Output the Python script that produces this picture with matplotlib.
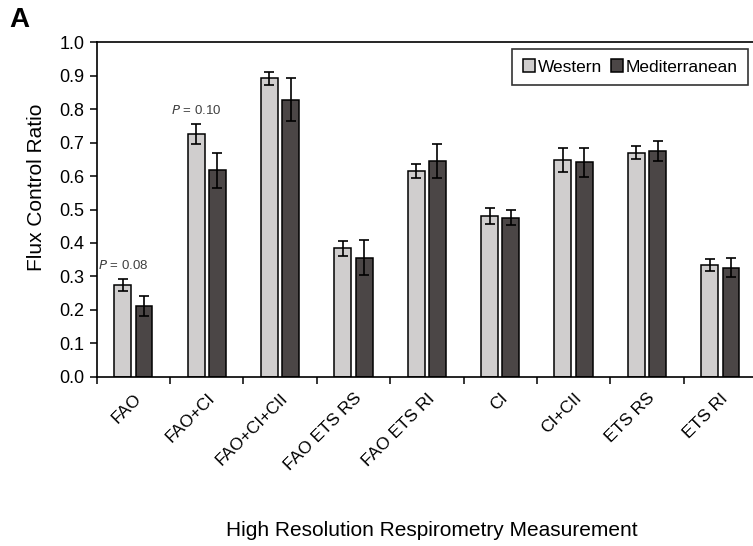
import numpy as np
import matplotlib
matplotlib.use('Agg')
import matplotlib.pyplot as plt

plt.rcParams['font.family'] = ['Liberation Sans', 'DejaVu Sans']

# Data
categories = ['FAO', 'FAO+CI', 'FAO+CI+CII', 'FAO ETS RS', 'FAO ETS RI',
              'CI', 'CI+CII', 'ETS RS', 'ETS RI']
western = [0.274, 0.725, 0.892, 0.384, 0.616, 0.482, 0.649, 0.670, 0.334]
western_err = [0.018, 0.030, 0.020, 0.023, 0.021, 0.024, 0.036, 0.020, 0.018]
medit = [0.211, 0.617, 0.829, 0.356, 0.644, 0.476, 0.641, 0.675, 0.326]
medit_err = [0.029, 0.053, 0.063, 0.052, 0.051, 0.022, 0.043, 0.030, 0.029]
p_labels = {0: '0.08', 1: '0.10'}

fig = plt.figure(figsize=(7.53, 5.46), dpi=100)
ax = fig.add_axes([0.1284, 0.310, 0.8769, 0.6125])

x = np.arange(len(categories)) + 0.5
w = 0.23
off = 0.145
ekw = dict(elinewidth=1.2, capthick=1.2, ecolor='black')
ax.bar(x - off, western, w, yerr=western_err, capsize=3.5, color='#d0cece',
       edgecolor='black', linewidth=1.1, error_kw=ekw, label='Western', zorder=2)
ax.bar(x + off, medit, w, yerr=medit_err, capsize=3.5, color='#4b4646',
       edgecolor='black', linewidth=1.1, error_kw=ekw, label='Mediterranean', zorder=2)

# P-value annotations
for i, p in p_labels.items():
    top = western[i] + western_err[i]
    ax.text(x[i] - off, top + 0.022, r'$P$ = ' + p, ha='center', va='bottom',
            fontsize=9.5, color='#404040')

ax.set_xlim(0, len(categories))
ax.set_ylim(0, 1.0)
ax.set_yticks(np.arange(0, 1.01, 0.1))
ax.set_yticklabels(['%.1f' % v for v in np.arange(0, 1.01, 0.1)], fontsize=13)
ax.tick_params(axis='y', length=5, width=1.1, direction='out', pad=4)

ax.set_xticks(x)
ax.set_xticklabels(categories, rotation=45, ha='right', rotation_mode='anchor', fontsize=12.5)
ax.tick_params(axis='x', which='major', length=0, pad=10)
ax.set_xticks(np.arange(0, len(categories) + 1), minor=True)
ax.tick_params(axis='x', which='minor', length=5, width=1.1, direction='out')

for s in ax.spines.values():
    s.set_linewidth(1.2)

leg = ax.legend(loc='upper right', bbox_to_anchor=(0.986, 0.980), borderaxespad=0,
                ncol=2, fontsize=12.5, frameon=True, fancybox=False, edgecolor='black',
                handlelength=0.7, handleheight=0.7, handletextpad=0.15,
                columnspacing=0.5, borderpad=0.6)
leg.get_frame().set_linewidth(1.2)

fig.text(0.049, 0.657, 'Flux Control Ratio', rotation=90, ha='center', va='center', fontsize=15)
fig.text(0.574, 0.029, 'High Resolution Respirometry Measurement', ha='center', va='center',
         fontsize=15)
fig.text(0.013, 0.963, 'A', fontsize=20, fontweight='bold', ha='left', va='center')

fig.savefig('out.png', dpi=100)
